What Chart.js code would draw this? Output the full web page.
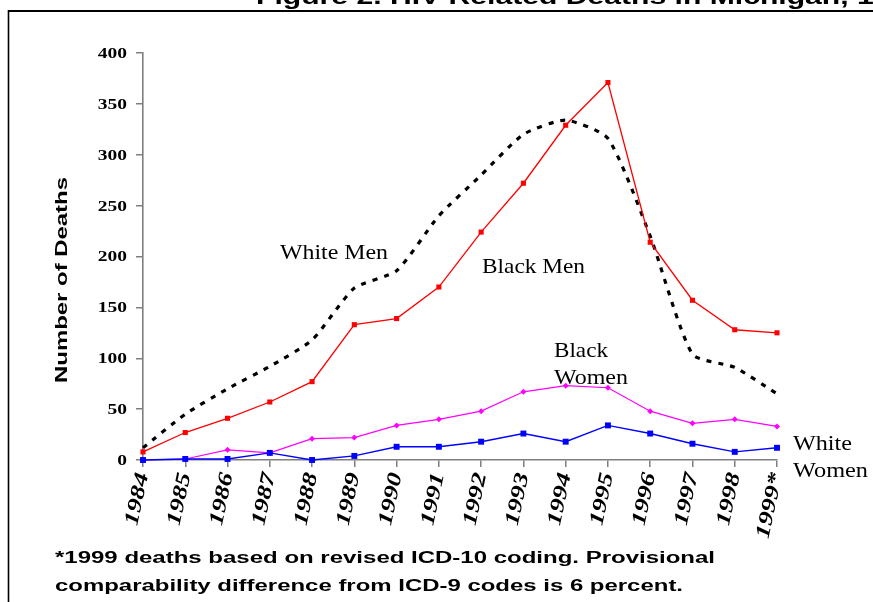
<!DOCTYPE html>
<html><head><meta charset="utf-8">
<script src="https://cdn.jsdelivr.net/npm/chart.js@4.4.1/dist/chart.umd.min.js"></script>
<style>html,body{margin:0;padding:0;background:#fff}#wrap{width:873px;height:602px;position:relative;overflow:hidden}</style>
</head><body><div id="wrap"><canvas id="c" width="873" height="602"></canvas></div>
<script>
// ---- data ----
const years = ['1984','1985','1986','1987','1988','1989','1990','1991','1992','1993','1994','1995','1996','1997','1998','1999*'];
const whiteMen   = [12, 45, 70, 92, 118, 169, 186, 240, 280, 320, 334, 316, 220, 104, 91, 65];
const blackMen   = [8, 27, 41, 57, 77, 133, 139, 170, 224, 272, 329, 371, 214, 157, 128, 125];
const blackWomen = [0, 1, 10, 7, 21, 22, 34, 40, 48, 67, 73, 71, 48, 36, 40, 33];
const whiteWomen = [0, 1, 1, 7, 0, 4, 13, 13, 18, 26, 18, 34, 26, 16, 8, 12];
const yTickValues = [0, 50, 100, 150, 200, 250, 300, 350, 400];
const titleText = 'Figure 2. HIV-Related Deaths in Michigan, 1984-1999';
const yTitle = 'Number of Deaths';
const footnote1 = '*1999 deaths based on revised ICD-10 coding. Provisional';
const footnote2 = 'comparability difference from ICD-9 codes is 6 percent.';

const SERIF = '"Liberation Serif", "Times New Roman", serif';
const SANS = '"Liberation Sans", Arial, sans-serif';

function txt(ctx, s, x, y, o) {
  ctx.save();
  ctx.font = o.font;
  ctx.translate(x, y);
  if (o.rot) ctx.rotate(o.rot);
  let sx = o.sx || 1;
  if (o.w) sx = o.w / ctx.measureText(o.fitText || s).width;
  ctx.scale(sx, 1);
  ctx.textAlign = o.align || 'left';
  ctx.textBaseline = o.baseline || 'alphabetic';
  ctx.fillStyle = o.color || '#000';
  ctx.fillText(s, 0, 0);
  ctx.restore();
}

const decor = {
  id: 'decor',
  beforeDraw(chart) {
    const ctx = chart.ctx;
    ctx.save();
    ctx.fillStyle = '#fff';
    ctx.fillRect(0, 0, chart.width, chart.height);
    ctx.strokeStyle = '#000';
    ctx.lineWidth = 2;
    ctx.beginPath(); ctx.moveTo(8, 11); ctx.lineTo(873, 11); ctx.stroke();
    ctx.lineWidth = 1.6;
    ctx.beginPath(); ctx.moveTo(8.5, 10); ctx.lineTo(8.5, 602); ctx.stroke();
    ctx.restore();
    // title (cut off at top in the reference)
    txt(ctx, titleText, 256, 4, {font: 'bold 22px ' + SANS, w: 601, fitText: 'Figure 2. HIV-Related Deaths in Michigan, '});
  },
  afterDraw(chart) {
    const ctx = chart.ctx;
    const xs = chart.scales.x, ys = chart.scales.y;
    // y tick labels
    yTickValues.forEach(v => {
      txt(ctx, String(v), 127, ys.getPixelForValue(v) + 1, {font: 'bold 15px ' + SERIF, align: 'right', baseline: 'middle', sx: 1.3});
    });
    // x tick labels
    years.forEach((lab, i) => {
      const x = xs.getPixelForTick(i);
      txt(ctx, lab, x, 473, {font: 'bold italic 20.5px ' + SERIF, align: 'right', baseline: 'middle', rot: -78 * Math.PI / 180, sx: 1.3});
    });
    // axis title
    txt(ctx, yTitle, 67, 280, {font: 'bold 16.5px ' + SANS, align: 'center', rot: -Math.PI / 2, w: 206});
    // series labels
    const lf = '21px ' + SERIF;
    txt(ctx, 'White Men', 280, 259, {font: lf, w: 108});
    txt(ctx, 'Black Men', 482, 273, {font: lf, w: 103});
    txt(ctx, 'Black', 554, 357, {font: lf, w: 54});
    txt(ctx, 'Women', 554, 384, {font: lf, w: 74});
    txt(ctx, 'White', 793, 450, {font: lf, w: 59});
    txt(ctx, 'Women', 793, 477, {font: lf, w: 75});
    // footnote
    txt(ctx, footnote1, 55, 563, {font: 'bold 16px ' + SANS, w: 660});
    txt(ctx, footnote2, 55, 591, {font: 'bold 16px ' + SANS, w: 628});
  }
};

const axisGrid = {display: true, drawOnChartArea: false, drawTicks: true, tickLength: 7, color: '#7f7f7f', lineWidth: 1.5};
const axisBorder = {display: true, color: '#7f7f7f', width: 1.6};

new Chart(document.getElementById('c'), {
  type: 'line',
  data: {
    labels: years,
    datasets: [
      {label: 'White Women', data: whiteWomen, borderColor: '#0000ff', backgroundColor: '#0000ff', borderWidth: 1.4,
       pointStyle: 'rect', pointRadius: 4.2, pointBorderWidth: 0, tension: 0, clip: false},
      {label: 'Black Women', data: blackWomen, borderColor: '#ff00ff', backgroundColor: '#ff00ff', borderWidth: 1.2,
       pointStyle: 'rectRot', pointRadius: 3, pointBorderWidth: 0, tension: 0, clip: false},
      {label: 'Black Men', data: blackMen, borderColor: '#ff0000', backgroundColor: '#ff0000', borderWidth: 1.3,
       pointStyle: 'rect', pointRadius: 3.6, pointBorderWidth: 0, tension: 0, clip: false},
      {label: 'White Men', data: whiteMen, borderColor: '#000000', backgroundColor: '#000000', borderWidth: 3.2,
       borderDash: [5, 7], borderCapStyle: 'butt', pointRadius: 0, tension: 0.2, cubicInterpolationMode: 'default', clip: false}
    ]
  },
  options: {
    responsive: false,
    animation: false,
    devicePixelRatio: 1,
    layout: {padding: {left: 0, right: 96, top: 53, bottom: 0}},
    plugins: {legend: {display: false}, tooltip: {enabled: false}, title: {display: false}},
    scales: {
      x: {type: 'category', offset: false, grid: axisGrid, border: axisBorder,
          ticks: {display: false}, afterFit(s) { s.height = 142; }},
      y: {min: 0, max: 400, grid: axisGrid, border: axisBorder,
          ticks: {display: false, stepSize: 50}, afterFit(s) { s.width = 143; }}
    }
  },
  plugins: [decor]
});
</script>
</body></html>
